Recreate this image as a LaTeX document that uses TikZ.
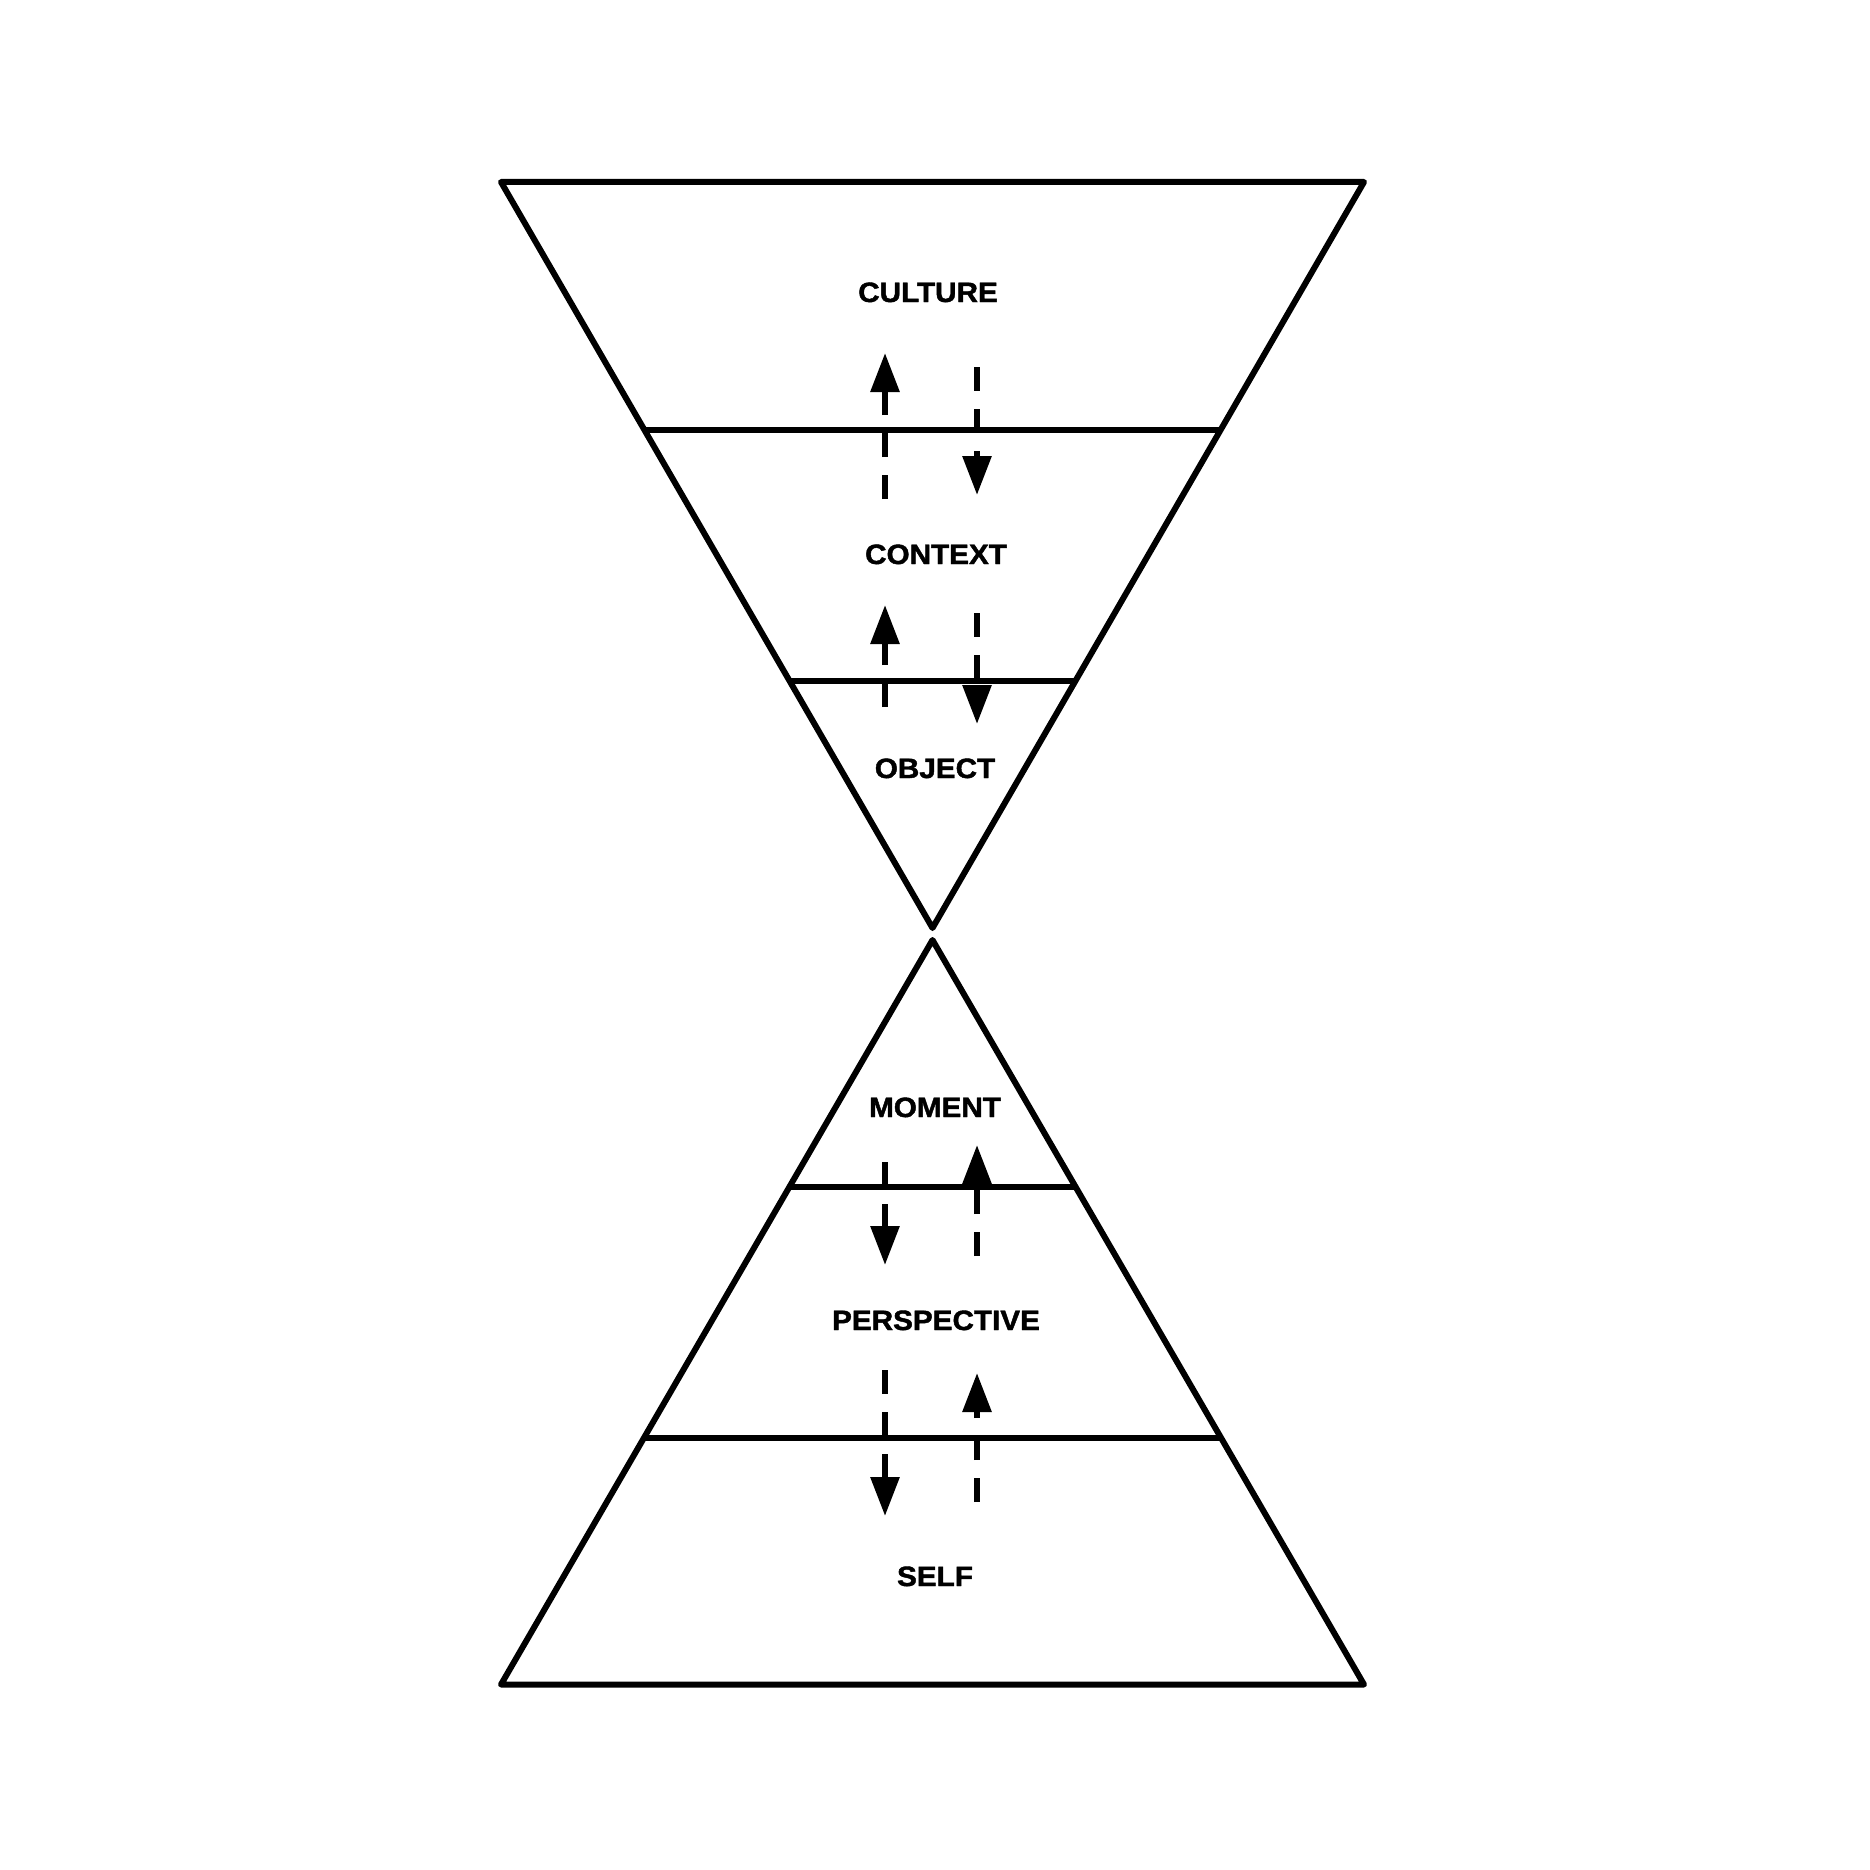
\documentclass[tikz,border=0pt]{standalone}
\usepackage{fontspec}
\setmainfont{Liberation Sans}
\newfontfamily\lblfont{Liberation Sans Bold}[FakeBold=1.5]
\usetikzlibrary{arrows.meta,calc}
\begin{document}
\begin{tikzpicture}[x=1pt,y=-1pt,
  frame/.style={line width=6pt,line join=round,line cap=round},
  band/.style={line width=6.5pt},
  flow/.style={line width=6pt,dash pattern=on 24pt off 18pt,-{Triangle[length=39pt,width=28pt]}},
  lbl/.style={anchor=base,inner sep=0pt,font=\fontsize{28}{32}\lblfont}]
\useasboundingbox (0,0) rectangle (1870,1870);
% upper (inverted) triangle
\coordinate (TL) at (501,182);
\coordinate (TR) at (1364,182);
\coordinate (TA) at (932.5,928);
\draw[frame] (TL) -- (TR) -- (TA) -- cycle;
\draw[band] ($(TA)!0.6676!(TL)$) -- ($(TA)!0.6676!(TR)$);
\draw[band] ($(TA)!0.3311!(TL)$) -- ($(TA)!0.3311!(TR)$);
% lower triangle
\coordinate (BL) at (501,1684.5);
\coordinate (BR) at (1364,1684.5);
\coordinate (BA) at (932.5,940);
\draw[frame] (BL) -- (BR) -- (BA) -- cycle;
\draw[band] ($(BA)!0.3318!(BL)$) -- ($(BA)!0.3318!(BR)$);
\draw[band] ($(BA)!0.6689!(BL)$) -- ($(BA)!0.6689!(BR)$);
% labels
\node[lbl] (culture) at (928,302) {\scalebox{1.06}[1]{CULTURE}};
\node[lbl] (context) at (936,564) {\scalebox{1.06}[1]{CONTEXT}};
\node[lbl] (object) at (935,778) {\scalebox{1.06}[1]{OBJECT}};
\node[lbl] (moment) at (935,1117) {\scalebox{1.06}[1]{MOMENT}};
\node[lbl] (persp) at (936,1330) {\scalebox{1.06}[1]{PERSPECTIVE}};
\node[lbl] (self) at (935,1586) {\scalebox{1.06}[1]{SELF}};
% arrow end points
\coordinate (a1s) at (885,499);  \coordinate (a1e) at (885,353);
\coordinate (a2s) at (977,367);  \coordinate (a2e) at (977,495);
\coordinate (a3s) at (885,707);  \coordinate (a3e) at (885,605);
\coordinate (a4s) at (977,613);  \coordinate (a4e) at (977,724);
\coordinate (a5s) at (885,1162); \coordinate (a5e) at (885,1265);
\coordinate (a6s) at (977,1256); \coordinate (a6e) at (977,1145);
\coordinate (a7s) at (885,1370); \coordinate (a7e) at (885,1516);
\coordinate (a8s) at (977,1502); \coordinate (a8e) at (977,1373);
\foreach \i in {1,...,8} \draw[flow] (a\i s) -- (a\i e);
\end{tikzpicture}
\end{document}
